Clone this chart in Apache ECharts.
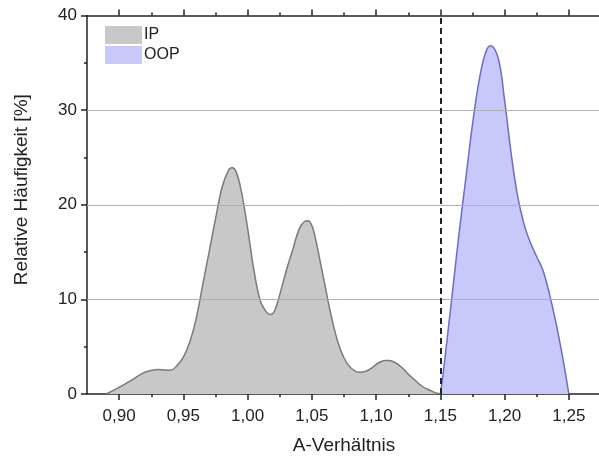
<!DOCTYPE html>
<html><head><meta charset="utf-8">
<script src="https://cdn.jsdelivr.net/npm/echarts@6/dist/echarts.min.js"></script>
<style>html,body{margin:0;padding:0;background:#fff}#c{width:599px;height:456px}</style>
</head><body><div id="c"></div>
<script>
var ipX = [0.890,0.900,0.910,0.920,0.930,0.940,0.945,0.950,0.955,0.960,0.965,0.970,0.975,0.980,0.985,0.988,0.991,0.995,1.000,1.005,1.010,1.015,1.018,1.021,1.025,1.030,1.035,1.040,1.044,1.047,1.050,1.052,1.055,1.060,1.065,1.070,1.075,1.080,1.087,1.092,1.097,1.102,1.107,1.110,1.115,1.120,1.125,1.130,1.135,1.140,1.145,1.150];
var ipY = [0,0.7,1.5,2.3,2.6,2.5,3.0,3.9,5.5,8.0,11.5,15.0,18.5,21.8,23.6,23.9,23.5,21.5,17.5,13.0,9.8,8.6,8.4,8.8,10.5,13.0,15.2,17.4,18.2,18.3,17.8,16.9,15.0,11.6,8.3,5.6,3.8,2.8,2.3,2.4,2.8,3.3,3.55,3.55,3.3,2.8,2.1,1.5,0.9,0.5,0.2,0];
var oopX = [1.150,1.152,1.155,1.160,1.165,1.170,1.175,1.180,1.185,1.189,1.195,1.200,1.205,1.210,1.215,1.220,1.225,1.230,1.235,1.240,1.245,1.250];
var oopY = [0,2,5.5,11.5,17.5,23,28.5,33,36,36.8,35.5,31,25.5,21,18,16,14.5,13,10.5,7.5,4,0];
var xMajor = [0.90,0.95,1.00,1.05,1.10,1.15,1.20,1.25];
var xMinor = [0.925,0.975,1.025,1.075,1.125,1.175,1.225,1.275];
var yTicks = [0,10,20,30,40];
var dashX = 1.15;

function pairs(xs, ys){ return xs.map(function(x,i){return [x, ys[i]];}); }
var fmt = function(v){ return (Math.round(v*100)/100).toFixed(2).replace('.', ','); };
var txt = '#222';
var ff = 'Liberation Sans, Arial';
function xa(pos, major, labels){
  return {
    type:'value', position:pos, min:0.875, max:1.275,
    axisLine:{show:major, onZero:false, lineStyle:{color:'#222', width:1.5}},
    axisTick:{show:true, inside:false, length: major?6:3, customValues: major?xMajor:xMinor, lineStyle:{color:'#222', width:1.5}},
    axisLabel:{show:labels, customValues:xMajor, formatter:fmt, color:txt, fontSize:17, fontFamily:ff, margin:14},
    splitLine:{show:false}
  };
}
var opt = {
  animation:false,
  backgroundColor:'#fff',
  grid:{left:87, right:-2, top:15.5, bottom:62, containLabel:false, outerBoundsMode:'none'},
  legend:{
    orient:'vertical', left:100, top:21, itemWidth:37, itemHeight:18, itemGap:2, icon:'rect',
    textStyle:{color:txt, fontSize:16, fontFamily:ff, padding:[0,0,0,-3]},
    data:['IP','OOP']
  },
  xAxis:[
    Object.assign(xa('bottom', true, true), {name:'A-Verhältnis', nameLocation:'middle', nameGap:42, nameTextStyle:{color:txt, fontSize:19, fontFamily:ff}}),
    xa('bottom', false, false),
    xa('top', true, false),
    xa('top', false, false)
  ],
  yAxis:[{
    type:'value', min:0, max:40, interval:10, position:'left',
    name:'Relative Häufigkeit [%]', nameLocation:'middle', nameGap:56,
    nameTextStyle:{color:txt, fontSize:19, fontFamily:ff, padding:[0,0,0,30]},
    axisLine:{show:true, lineStyle:{color:'#222', width:1.5}},
    axisTick:{show:true, inside:false, length:6, lineStyle:{color:'#222', width:1.5}},
    minorTick:{show:true, splitNumber:2, length:3, lineStyle:{color:'#222', width:1.5}},
    axisLabel:{color:txt, fontSize:17, fontFamily:ff, margin:10},
    splitLine:{show:false}
  },{
    type:'value', min:0, max:40, interval:10, position:'right',
    axisLine:{show:true, lineStyle:{color:'#222', width:1.5}},
    axisTick:{show:false}, axisLabel:{show:false}, splitLine:{show:false}
  }],
  series:[
    {name:'IP', type:'line', data:pairs(ipX, ipY), smooth:0.4, showSymbol:false, symbol:'none',
     itemStyle:{color:'#c8c8c8'},
     lineStyle:{color:'#7a7a7a', width:1.5}, areaStyle:{color:'#c8c8c8', opacity:1}, z:2},
    {name:'OOP', type:'line', data:pairs(oopX, oopY), smooth:0.4, showSymbol:false, symbol:'none',
     itemStyle:{color:'#c8c8fa'},
     lineStyle:{color:'#6c6cc8', width:1.5}, areaStyle:{color:'#c8c8fa', opacity:1}, z:2},
    {name:'grid', type:'line', data:[], z:5, silent:true,
     markLine:{symbol:'none', silent:true, label:{show:false},
       lineStyle:{color:'#b0b0b0', width:1, type:'solid'},
       data:yTicks.slice(1,4).map(function(v){return {yAxis:v};})}},
    {name:'dash', type:'line', data:[], z:6, silent:true,
     markLine:{symbol:'none', silent:true, label:{show:false},
       lineStyle:{color:'#222', width:2, type:[6,4]},
       data:[{xAxis:dashX}]}}
  ]
};
var ch = echarts.init(document.getElementById('c'), null, {renderer:'canvas'});
ch.setOption(opt);
</script></body></html>
